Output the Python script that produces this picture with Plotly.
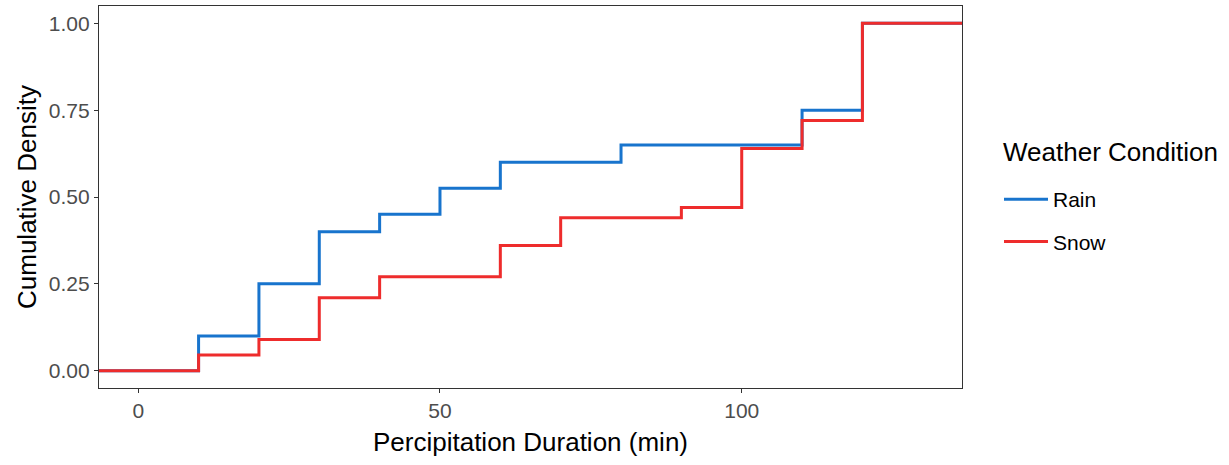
import plotly.graph_objects as go

# ECDF step data (jump locations and cumulative density after each jump)
rain_x = [10, 20, 30, 40, 50, 60, 80, 110, 120]
rain_y = [0.10, 0.25, 0.40, 0.45, 0.525, 0.60, 0.65, 0.75, 1.00]
snow_x = [10, 20, 30, 40, 60, 70, 90, 100, 110, 120]
snow_y = [0.045, 0.09, 0.21, 0.27, 0.36, 0.44, 0.47, 0.64, 0.72, 1.00]

x_range = [-6.5, 136.5]
y_range = [-0.05, 1.05]
x_ticks = [0, 50, 100]
y_ticks = [0.0, 0.25, 0.5, 0.75, 1.0]
y_ticklabels = ["0.00", "0.25", "0.50", "0.75", "1.00"]
legend_title = "Weather Condition"

series = [
    ("Rain", rain_x, rain_y, "#1874CD"),
    ("Snow", snow_x, snow_y, "#EE2C2C"),
]

fig = go.Figure()
for i, (name, xs, ys, col) in enumerate(series):
    # pad the ECDF to the panel edges (like ggplot's -Inf/Inf padding)
    px = [x_range[0]] + xs + [x_range[1]]
    py = [0] + ys + [ys[-1]]
    fig.add_trace(go.Scatter(
        x=px, y=py, mode="lines", name=name,
        line=dict(color=col, width=3, shape="hv"),
        legendgroup=name,
    ))

font = "Liberation Sans, Arial, sans-serif"
W, H = 1229, 465
ml, mr, mt, mb = 99, 267, 6, 77
pw, ph = W - ml - mr, H - mt - mb

fig.add_annotation(
    text=legend_title, showarrow=False,
    xref="paper", yref="paper",
    x=(1001 - ml) / pw, y=(H - mb - 152) / ph,
    xanchor="left", yanchor="middle",
    font=dict(size=26, color="black", family=font),
)

fig.update_layout(
    width=W, height=H,
    margin=dict(l=ml, r=mr, t=mt, b=mb),
    paper_bgcolor="white", plot_bgcolor="white",
    font=dict(family=font, color="black"),
    showlegend=True,
    legend=dict(
        xref="container", yref="container",
        x=999 / W, y=1 - 179 / H, xanchor="left", yanchor="top",
        font=dict(size=21, color="black"),
        tracegroupgap=12,
        itemwidth=44,
        bgcolor="rgba(0,0,0,0)",
    ),
    xaxis=dict(
        range=x_range, tickvals=x_ticks, ticktext=[str(v) for v in x_ticks],
        showgrid=False, zeroline=False,
        showline=True, mirror=True, linecolor="#333333", linewidth=1.3,
        ticks="outside", ticklen=4, tickcolor="#333333", tickwidth=1,
        tickfont=dict(size=21, color="#4D4D4D"),
        title=dict(text="Percipitation Duration (min)", font=dict(size=26, color="black"), standoff=11),
    ),
    yaxis=dict(
        range=y_range, tickvals=y_ticks, ticktext=y_ticklabels,
        showgrid=False, zeroline=False,
        showline=True, mirror=True, linecolor="#333333", linewidth=1.3,
        ticks="outside", ticklen=4, tickcolor="#333333", tickwidth=1,
        tickfont=dict(size=21, color="#4D4D4D"),
        title=dict(text="Cumulative Density", font=dict(size=26, color="black"), standoff=4),
    ),
)

fig.write_html("out.html")
